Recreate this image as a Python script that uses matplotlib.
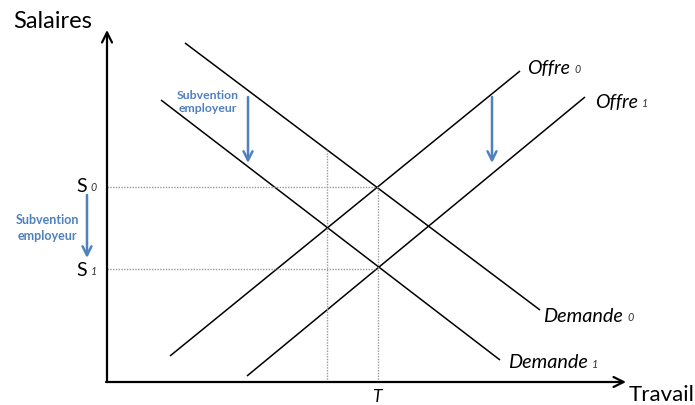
import matplotlib.pyplot as plt

# schematic units (origin = intersection of the two axes)
offre0_x = [63, 413]
offre0_y = [26, 311]
offre1_x = [140, 478]
offre1_y = [6, 285]
demande0_x = [78, 433]
demande0_y = [339, 72]
demande1_x = [54, 393]
demande1_y = [282, 22]

S0 = 195
S1 = 113
T = 271
T_sub = 220       # employment where Offre 0 meets Demande 1
T_sub_top = 232   # where the dotted line meets Demande 0

BLUE = '#4f81bd'
FONT = 'Lato'


def label_with_sub(ax, x, y, main, sub, size, style='italic', ha='left'):
    """Main text followed by a small italic subscript."""
    t = ax.text(x, y, main, fontsize=size, style=style, family=FONT,
                ha=ha, va='center')
    ax.annotate(sub, xy=(1, 0), xycoords=t, xytext=(3, 1),
                textcoords='offset points', fontsize=size * 0.55,
                style='italic', family=FONT, color='#333333',
                ha='left', va='bottom')
    return t


fig = plt.figure(figsize=(6.95, 4.05), dpi=100)
ax = fig.add_axes([0, 0, 1, 1])
ax.set_xlim(-107, 588)
ax.set_ylim(-23, 382)
ax.axis('off')

# axes with arrows
ax.annotate('', xy=(0, 352), xytext=(0, 0),
            arrowprops=dict(arrowstyle='->', lw=1.6, color='black',
                            mutation_scale=18, shrinkA=0, shrinkB=0))
ax.annotate('', xy=(519, 0), xytext=(-1, 0),
            arrowprops=dict(arrowstyle='->', lw=1.6, color='black',
                            mutation_scale=18, shrinkA=0, shrinkB=0))

# curves
for xs, ys in [(offre0_x, offre0_y), (offre1_x, offre1_y),
               (demande0_x, demande0_y), (demande1_x, demande1_y)]:
    ax.plot(xs, ys, color='black', lw=1.1, solid_capstyle='butt')

# dotted guides
dot = dict(color='#999999', lw=1.0, linestyle=(0, (1, 1)))
ax.plot([0, T], [S0, S0], **dot)
ax.plot([0, T], [S1, S1], **dot)
ax.plot([T, T], [0, S0], **dot)
ax.plot([T_sub, T_sub], [0, T_sub_top], **dot)

# axis titles
ax.text(-94, 360, 'Salaires', fontsize=17, family=FONT, ha='left', va='center')
ax.text(522, -13, 'Travail', fontsize=16, family=FONT, ha='left', va='center')

# curve labels
label_with_sub(ax, 420, 314, 'Offre', '0', 14)
label_with_sub(ax, 488, 280, 'Offre', '1', 14)
label_with_sub(ax, 436, 66, 'Demande', '0', 14.3)
label_with_sub(ax, 401, 19, 'Demande', '1', 14.3)

# wage labels
label_with_sub(ax, -31, S0 + 1, 'S', '0', 14, style='normal')
label_with_sub(ax, -31, S1 - 1, 'S', '1', 14, style='normal')
ax.text(T - 1, -15, 'T', fontsize=12.5, style='italic', family=FONT,
        ha='center', va='center')

# subsidy annotations
blue_arrow = dict(arrowstyle='->', lw=1.8, color=BLUE, mutation_scale=16,
                  shrinkA=0, shrinkB=0)
ax.annotate('', xy=(-20, 124), xytext=(-20, 187), arrowprops=blue_arrow)
ax.annotate('', xy=(141, 219), xytext=(141, 285), arrowprops=blue_arrow)
ax.annotate('', xy=(385, 219), xytext=(385, 285), arrowprops=blue_arrow)

ax.text(-60, 154, 'Subvention\nemployeur', fontsize=9, fontweight='bold',
        color=BLUE, family=FONT, ha='center', va='center', linespacing=1.3)
ax.text(101, 280, 'Subvention\nemployeur', fontsize=8.8, fontweight='bold',
        color=BLUE, family=FONT, ha='center', va='center', linespacing=1.3)

fig.savefig('out.png', dpi=100)
